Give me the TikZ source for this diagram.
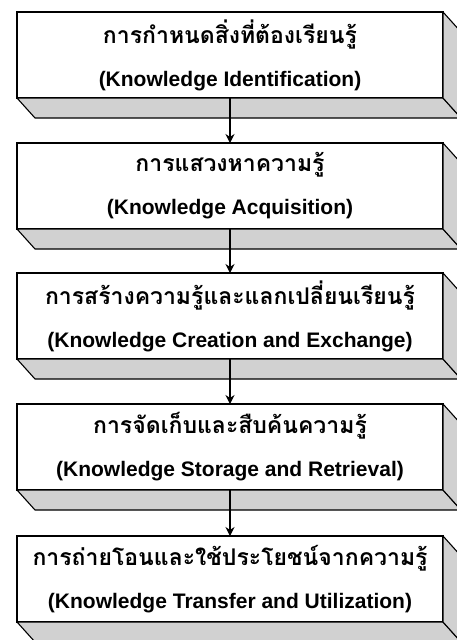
\documentclass[tikz,border=0pt]{standalone}
\usepackage{fontspec}
\setmainfont{Liberation Sans}
\newfontfamily\thaifont[Script=Thai]{Loma}
\usetikzlibrary{arrows.meta}

\newcommand\thline[1]{{\thaifont\fontsize{23}{43}\selectfont #1}}

\tikzset{
  stage/.style={draw, line width=1.1pt, fill=white, outer sep=0pt, inner sep=0pt,
    minimum width=426pt, minimum height=86pt, align=center,
    font=\bfseries\fontsize{21}{43}\selectfont},
  bevel/.style={draw, line width=1.1pt, fill=black!18, line join=round},
  flow/.style={-{Stealth[length=9pt,width=9pt]}, line width=1.2pt},
}

\begin{document}
\begin{tikzpicture}[x=1pt,y=-1pt]
      \useasboundingbox (0,0) rectangle (457,640);
      \clip (0,0) rectangle (457,640);
      \draw
        (230,55) node[stage] (1){\thline{การกำหนดสิ่งที่ต้องเรียนรู้}\\(Knowledge Identification)}
        (230,186) node[stage] (2){\thline{การแสวงหาความรู้}\\(Knowledge Acquisition)}
        (230,316) node[stage] (3){\thline{การสร้างความรู้และแลกเปลี่ยนเรียนรู้}\\(Knowledge Creation and Exchange)}
        (230,447) node[stage] (4){\thline{การจัดเก็บและสืบค้นความรู้}\\(Knowledge Storage and Retrieval)}
        (230,579) node[stage] (5){\thline{การถ่ายโอนและใช้ประโยชน์จากความรู้}\\(Knowledge Transfer and Utilization)};
      % bottom and right faces
      \foreach \n in {1,...,5} {
        \draw[bevel] (\n.south west) -- ++(18,20) -- ++(426,0) -- (\n.south east) -- cycle;
        \draw[bevel] (\n.north east) -- ++(18,20) -- ++(0,86) -- (\n.south east) -- cycle;
      }
      \begin{scope}[flow]
        \draw (1) to (2);
        \draw (2) to (3);
        \draw (3) to (4);
        \draw (4) to (5);
      \end{scope}
    \end{tikzpicture}
\end{document}
